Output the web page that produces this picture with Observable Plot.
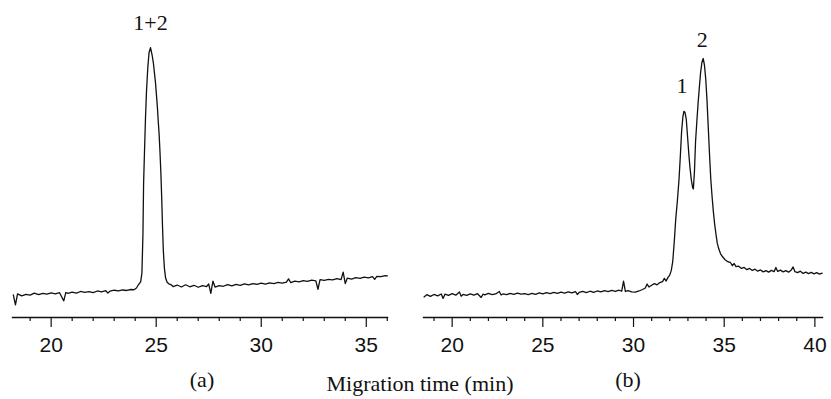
<!DOCTYPE html>
<html><head><meta charset="utf-8">
<script src="https://cdn.jsdelivr.net/npm/d3@7"></script>
<script src="https://cdn.jsdelivr.net/npm/@observablehq/plot@0.6"></script>
<style>
html,body{margin:0;padding:0;background:#fff;}
#fig{position:relative;width:831px;height:399px;overflow:hidden;background:#fff;}
#pa{position:absolute;left:0;top:0;}
#pb{position:absolute;left:415px;top:0;}
#cap{position:absolute;left:420px;top:373px;transform:translateX(-50%);font-family:"Liberation Serif","Times New Roman",serif;font-size:22px;line-height:22px;white-space:nowrap;color:#111;}
</style></head><body>
<div id="fig"><div id="pa"></div><div id="pb"></div><div id="cap"></div></div>
<script>
// Electropherogram (a): [migration time (min), detector signal (a.u.)]
const traceA = [[18.2,0.2],[18.3,-3.8],[18.4,0.6],[18.6,-0.2],[18.8,0.4],[19.0,0.1],[19.2,0.9],[19.4,0.3],[19.6,0.8],[19.8,0.5],[20.0,1.0],[20.2,0.6],[20.4,1.1],[20.6,-2.2],[20.7,1.2],[20.8,0.8],[21.0,1.3],[21.2,0.9],[21.4,1.6],[21.6,1.2],[21.8,1.5],[22.0,1.1],[22.2,1.8],[22.4,1.4],[22.6,1.9],[22.7,1.0],[22.8,1.7],[23.0,2.1],[23.2,1.8],[23.4,2.2],[23.6,2.0],[23.8,2.4],[23.94,2.3],[24.06,3.0],[24.16,4.4],[24.26,5.5],[24.32,9.0],[24.37,25.0],[24.40,45.2],[24.45,60.0],[24.49,71.4],[24.54,82.7],[24.60,91.9],[24.66,98.0],[24.73,100.0],[24.81,96.8],[24.87,93.5],[24.92,89.5],[24.97,85.5],[25.02,80.0],[25.06,75.5],[25.10,70.0],[25.14,65.0],[25.18,58.0],[25.22,50.0],[25.26,40.0],[25.30,28.0],[25.34,18.0],[25.39,11.0],[25.45,6.9],[25.52,5.3],[25.6,4.7],[25.7,4.4],[25.8,3.6],[26.0,4.2],[26.2,3.4],[26.4,4.3],[26.6,3.5],[26.8,4.1],[27.0,3.3],[27.2,4.0],[27.4,3.6],[27.5,4.6],[27.6,0.8],[27.7,5.8],[27.8,3.4],[28.0,4.0],[28.2,3.7],[28.4,4.4],[28.6,3.9],[28.8,4.5],[29.0,4.1],[29.2,4.7],[29.4,4.3],[29.6,4.8],[29.8,4.5],[30.0,5.0],[30.2,4.6],[30.4,5.1],[30.6,4.8],[30.8,5.3],[31.0,5.0],[31.2,5.4],[31.3,6.7],[31.4,5.2],[31.6,5.8],[31.8,5.5],[32.0,6.0],[32.2,5.7],[32.4,6.2],[32.6,5.9],[32.7,2.5],[32.8,6.4],[33.0,6.1],[33.2,6.5],[33.4,6.3],[33.6,6.8],[33.8,6.4],[33.9,9.4],[34.0,4.8],[34.1,7.0],[34.3,6.6],[34.5,7.2],[34.7,6.9],[34.9,7.4],[35.1,7.1],[35.3,7.6],[35.4,6.5],[35.5,7.7],[35.7,7.6],[35.9,8.0],[36.0,7.9]];

// Electropherogram (b)
const traceB = [[18.45,-0.6],[18.6,0.3],[18.8,-0.4],[19.0,0.4],[19.2,-0.2],[19.4,0.6],[19.5,-1.2],[19.6,0.5],[19.8,0.0],[20.0,0.7],[20.2,0.1],[20.4,1.4],[20.5,-0.3],[20.6,0.4],[20.8,0.0],[21.0,0.6],[21.2,0.1],[21.4,0.7],[21.6,-0.8],[21.7,0.5],[21.8,0.2],[22.0,0.8],[22.2,0.3],[22.4,0.6],[22.6,1.6],[22.7,0.2],[22.8,0.6],[23.0,0.3],[23.2,0.8],[23.4,0.4],[23.6,0.9],[23.8,0.5],[24.0,0.7],[24.2,0.3],[24.4,0.8],[24.6,0.4],[24.8,1.0],[25.0,0.6],[25.2,1.1],[25.4,0.7],[25.6,1.2],[25.8,0.8],[26.0,1.3],[26.2,0.9],[26.4,1.4],[26.6,1.0],[26.8,1.5],[26.9,0.4],[27.0,1.2],[27.2,1.6],[27.4,1.1],[27.6,1.7],[27.8,1.2],[28.0,1.8],[28.2,1.4],[28.4,1.9],[28.6,1.5],[28.8,2.0],[29.0,1.6],[29.2,2.1],[29.35,1.7],[29.45,5.8],[29.55,1.6],[29.7,1.9],[29.9,1.4],[30.1,1.3],[30.3,1.8],[30.5,2.4],[30.65,3.0],[30.75,4.6],[30.85,3.4],[31.0,4.1],[31.15,4.8],[31.3,4.3],[31.45,5.2],[31.6,5.6],[31.7,6.9],[31.8,5.8],[31.9,7.3],[31.99,8.1],[32.08,10.0],[32.16,13.5],[32.25,22.0],[32.33,31.0],[32.42,38.3],[32.51,47.0],[32.58,56.0],[32.65,66.0],[32.72,72.0],[32.78,74.3],[32.84,73.8],[32.91,71.0],[32.98,64.0],[33.05,57.0],[33.12,51.0],[33.19,46.5],[33.26,43.5],[33.30,43.0],[33.36,50.0],[33.42,62.0],[33.49,70.0],[33.56,77.5],[33.63,84.0],[33.70,90.0],[33.77,94.0],[33.84,95.6],[33.91,93.0],[33.98,87.5],[34.05,79.0],[34.12,68.0],[34.19,57.0],[34.26,47.0],[34.33,40.0],[34.40,34.0],[34.47,29.0],[34.55,24.5],[34.62,21.0],[34.70,18.8],[34.80,16.8],[34.92,15.5],[35.05,14.4],[35.2,13.6],[35.35,13.2],[35.45,12.0],[35.55,12.9],[35.65,11.6],[35.8,11.8],[35.95,10.9],[36.1,11.3],[36.25,10.4],[36.4,10.9],[36.55,10.1],[36.7,10.6],[36.85,9.8],[37.0,10.3],[37.15,9.5],[37.3,10.0],[37.45,9.4],[37.6,10.1],[37.75,9.6],[37.85,11.3],[37.95,9.7],[38.1,10.2],[38.25,9.5],[38.4,10.0],[38.55,9.4],[38.7,10.3],[38.8,11.5],[38.9,9.6],[39.05,9.2],[39.2,9.8],[39.35,8.9],[39.5,9.4],[39.65,8.8],[39.8,9.3],[39.95,8.7],[40.1,9.2],[40.25,8.6],[40.4,9.0]];

// Axis extents (min) and ticks
const xDomainA = [18.16, 36.01];
const xDomainB = [18.42, 40.42];
const yDomain = [-8.9, 119];
const majorTicksA = [20, 25, 30, 35];
const minorTicksA = [19, 21, 22, 23, 24, 26, 27, 28, 29, 31, 32, 33, 34, 36];
const majorTicksB = [20, 25, 30, 35, 40];
const minorTicksB = [19, 21, 22, 23, 24, 26, 27, 28, 29, 31, 32, 33, 34, 36, 37, 38, 39];

// Peak annotations: label, time, signal
const peakLabelsA = ["1+2"];
const peakTimesA = [24.73];
const peakSignalsA = [110.1];
const peakLabelsB = ["1", "2"];
const peakTimesB = [32.68, 33.79];
const peakSignalsB = [84.7, 103.2];

const panelLabels = ["(a)", "(b)"];
const axisTitle = "Migration time (min)";

const SERIF = "Liberation Serif, Times New Roman, serif";

function panel({trace, xDomain, width, marginLeft, marginRight, major, minor, labels, times, signals, label, labelDx}) {
  const peaks = labels.map((s, i) => ({s, t: times[i], v: signals[i]}));
  return Plot.plot({
    width, height: 399,
    marginLeft, marginRight, marginTop: 0, marginBottom: 82,
    x: {domain: xDomain},
    y: {domain: yDomain, axis: null},
    style: {fontFamily: "Liberation Sans, Arial, sans-serif", fontSize: "21px", color: "#111", background: "transparent", overflow: "visible"},
    marks: [
      Plot.frame({anchor: "bottom", strokeWidth: 1.4, stroke: "#111"}),
      Plot.axisX(minor, {tickSize: 4, tickFormat: () => "", strokeWidth: 1.2, label: null}),
      Plot.axisX(major, {tickSize: 10, tickPadding: 10, strokeWidth: 1.2, label: null, fontSize: 21}),
      Plot.line(trace, {x: d => d[0], y: d => d[1], stroke: "#111", strokeWidth: 1.3}),
      Plot.text(peaks, {x: "t", y: "v", text: "s", fontFamily: SERIF, fontSize: 22, fill: "#111"}),
      Plot.text([label], {text: d => d, frameAnchor: "bottom", lineAnchor: "middle", dy: 62, dx: labelDx, fontFamily: SERIF, fontSize: 22, fill: "#111"})
    ]
  });
}

document.getElementById("pa").append(panel({
  trace: traceA, xDomain: xDomainA, width: 415, marginLeft: 12, marginRight: 28,
  major: majorTicksA, minor: minorTicksA,
  labels: peakLabelsA, times: peakTimesA, signals: peakSignalsA,
  label: panelLabels[0], labelDx: 2
}));
document.getElementById("pb").append(panel({
  trace: traceB, xDomain: xDomainB, width: 416, marginLeft: 8, marginRight: 9,
  major: majorTicksB, minor: minorTicksB,
  labels: peakLabelsB, times: peakTimesB, signals: peakSignalsB,
  label: panelLabels[1], labelDx: 5
}));
document.getElementById("cap").textContent = axisTitle;
</script>
</body></html>
